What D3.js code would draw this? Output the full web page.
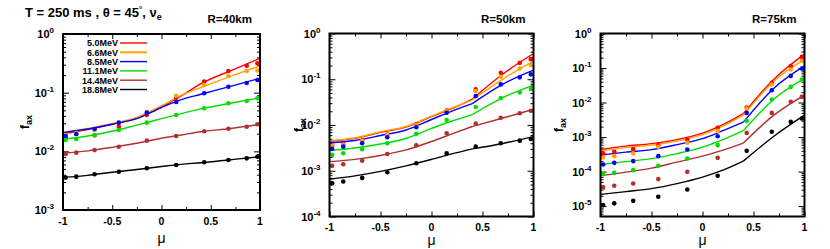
<!DOCTYPE html>
<html>
<head>
<meta charset="utf-8">
<script src="https://cdn.jsdelivr.net/npm/d3@7"></script>
<style>
  body { margin: 0; background: #fff; }
  svg text { font-family: "Liberation Sans", Arial, sans-serif; }
</style>
</head>
<body>
<div id="chart"></div>
<script>
// Gauss-Legendre angles where the points sit, and the grid of the model lines
const mu = [-0.9739, -0.8651, -0.6794, -0.4334, -0.1489, 0.1489, 0.4334, 0.6794, 0.8651, 0.9739];
const lineMu = [-1, -0.75, -0.5, -0.25, 0, 0.2, 0.4, 0.7, 1];

const energies = ["5.0MeV", "6.6MeV", "8.5MeV", "11.1MeV", "14.4MeV", "18.8MeV"];
const colors = ["#ff0000", "#ffa500", "#0000ff", "#00dd00", "#b03030", "#000000"];

const xTickLabels = ["-1", "-0.5", "0", "0.5", "1"];
const xTickValues = [-1, -0.5, 0, 0.5, 1];
const xMinorValues = [-0.75, -0.25, 0.25, 0.75];

// R = 40 km
const r40Points = [
  [0.0173, 0.0198, 0.0188, 0.0263, 0.0416, 0.082, 0.154, 0.234, 0.288, 0.317],
  [0.019, 0.0205, 0.0231, 0.0304, 0.0469, 0.0888, 0.135, 0.192, 0.234, 0.239],
  [0.0183, 0.0198, 0.024, 0.0308, 0.0456, 0.0693, 0.0976, 0.126, 0.146, 0.164],
  [0.0156, 0.0162, 0.0188, 0.0231, 0.0308, 0.0416, 0.0542, 0.0659, 0.0721, 0.0802],
  [0.009, 0.0095, 0.0105, 0.012, 0.0152, 0.0183, 0.022, 0.0243, 0.0263, 0.0289],
  [0.00356, 0.0037, 0.00406, 0.0045, 0.00514, 0.00585, 0.0065, 0.00712, 0.0076, 0.0081]
];
const r40Lines = [
  [0.02, 0.0235, 0.029, 0.037, 0.057, 0.088, 0.142, 0.236, 0.385],
  [0.021, 0.0245, 0.030, 0.038, 0.060, 0.090, 0.122, 0.19, 0.285],
  [0.0208, 0.024, 0.029, 0.036, 0.0558, 0.076, 0.094, 0.128, 0.176],
  [0.0162, 0.0183, 0.022, 0.028, 0.036, 0.044, 0.053, 0.066, 0.082],
  [0.0093, 0.0102, 0.0117, 0.0137, 0.0167, 0.019, 0.0216, 0.0245, 0.029],
  [0.0036, 0.0039, 0.0044, 0.0049, 0.0055, 0.006, 0.0064, 0.0072, 0.0081]
];

// R = 50 km
const r50Points = [
  [0.00357, 0.00376, 0.00459, 0.0062, 0.01026, 0.0207, 0.060, 0.138, 0.228, 0.275],
  [0.00348, 0.00366, 0.00448, 0.00605, 0.0100, 0.0202, 0.0551, 0.113, 0.172, 0.204],
  [0.0030, 0.00336, 0.00399, 0.0054, 0.0089, 0.0185, 0.0429, 0.0772, 0.110, 0.128],
  [0.00222, 0.00242, 0.00295, 0.00399, 0.00646, 0.01285, 0.0247, 0.0388, 0.0517, 0.061],
  [0.00128, 0.00139, 0.00166, 0.00233, 0.00361, 0.00659, 0.0107, 0.0144, 0.018, 0.0205],
  [0.000535, 0.00058, 0.000698, 0.00093, 0.00146, 0.00242, 0.00336, 0.00399, 0.00455, 0.00495]
];
const r50Lines = [
  [0.0044, 0.0051, 0.0069, 0.009, 0.0152, 0.0228, 0.037, 0.13, 0.366],
  [0.00455, 0.00528, 0.00714, 0.00927, 0.0157, 0.0235, 0.0351, 0.1007, 0.249],
  [0.00405, 0.00459, 0.0059, 0.00778, 0.0132, 0.0202, 0.0294, 0.0784, 0.158],
  [0.00278, 0.00315, 0.00385, 0.00508, 0.0084, 0.01223, 0.0169, 0.0398, 0.0745],
  [0.00158, 0.00177, 0.00216, 0.00285, 0.00436, 0.00637, 0.00927, 0.0142, 0.022],
  [0.000654, 0.000773, 0.000968, 0.00128, 0.00177, 0.00233, 0.0030, 0.00395, 0.00556]
];

// R = 75 km
const r75Points = [
  [3.36e-4, 3.73e-4, 4.47e-4, 5.83e-4, 8.53e-4, 1.85e-3, 7.21e-3, 0.0371, 0.115, 0.210],
  [2.57e-4, 2.80e-4, 3.36e-4, 5.21e-4, 6.81e-4, 1.51e-3, 6.65e-3, 0.0334, 0.0908, 0.161],
  [1.61e-4, 1.79e-4, 2.01e-4, 2.80e-4, 4.38e-4, 1.06e-3, 5.02e-3, 0.0228, 0.0592, 0.097],
  [8.44e-5, 9.2e-5, 1.10e-4, 1.47e-4, 2.40e-4, 5.83e-4, 2.95e-3, 0.0123, 0.0284, 0.0466],
  [3.48e-5, 3.87e-5, 4.54e-5, 6.05e-5, 9.84e-5, 2.50e-4, 1.32e-3, 5.02e-3, 0.0105, 0.0146],
  [1.07e-5, 1.20e-5, 1.42e-5, 1.86e-5, 3.04e-5, 7.54e-5, 3.99e-4, 1.42e-3, 2.76e-3, 3.46e-3]
];
const r75Lines = [
  [4.38e-4, 5.46e-4, 6.45e-4, 8.42e-4, 1.30e-3, 2.29e-3, 4.77e-3, 0.0475, 0.252],
  [3.99e-4, 4.94e-4, 5.83e-4, 7.62e-4, 1.17e-3, 2.07e-3, 4.30e-3, 0.0416, 0.177],
  [3.0e-4, 3.66e-4, 4.32e-4, 6.03e-4, 9.0e-4, 1.53e-3, 2.70e-3, 0.0261, 0.115],
  [1.61e-4, 1.94e-4, 2.37e-4, 3.31e-4, 5.11e-4, 8.42e-4, 1.53e-3, 0.01253, 0.0498],
  [7.64e-5, 9.64e-5, 1.26e-4, 1.88e-4, 2.80e-4, 4.18e-4, 6.67e-4, 4.31e-3, 0.0164],
  [2.18e-5, 2.63e-5, 3.21e-5, 4.48e-5, 6.92e-5, 1.10e-4, 2.01e-4, 1.06e-3, 4.31e-3]
];

const width = 830;
const height = 249;

const svg = d3.select("#chart").append("svg")
  .attr("width", width)
  .attr("height", height);

// kink: index in lineMu where the model curve breaks (null = smooth)
const panels = [
  { title: "R=40km", points: r40Points, lines: r40Lines, yMin: 1e-3, decades: [1e-3, 1e-2, 1e-1, 1],
    left: 63, right: 260, top: 34, bottom: 210, legend: true, yLabelX: 29, tickDy: 15, muDy: 33, kink: null },
  { title: "R=50km", points: r50Points, lines: r50Lines, yMin: 1e-4, decades: [1e-4, 1e-3, 1e-2, 1e-1, 1],
    left: 329.5, right: 533.5, top: 33.5, bottom: 216.5, legend: false, yLabelX: 303, tickDy: 14, muDy: 28, kink: 6 },
  { title: "R=75km", points: r75Points, lines: r75Lines, yMin: 5e-6, decades: [1e-5, 1e-4, 1e-3, 1e-2, 1e-1, 1],
    left: 600.5, right: 804.5, top: 33.5, bottom: 216.5, legend: false, yLabelX: 563, tickDy: 14, muDy: 28, kink: 6 }
];

panels.forEach(drawPanel);

// figure title
const title = svg.append("text")
  .attr("x", 25)
  .attr("y", 17)
  .attr("font-size", 13)
  .attr("font-weight", "bold");
title.append("tspan").text("T = 250 ms , \u03b8 = 45");
title.append("tspan").attr("font-size", 8).attr("dy", -5).text("\u00b0");
title.append("tspan").attr("dy", 5).text(", \u03bd");
title.append("tspan").attr("font-size", 9).attr("dy", 3).text("e");

function drawPanel(p) {
  const x = d3.scaleLinear().domain([-1, 1]).range([p.left, p.right]);
  const y = d3.scaleLog().domain([p.yMin, 1]).range([p.bottom, p.top]);

  const g = svg.append("g");

  // minor log ticks 2..9 per decade
  const minor = [];
  const lo = Math.floor(Math.log10(p.yMin));
  for (let e = lo; e < 0; e++) {
    for (let k = 2; k <= 9; k++) {
      const v = k * Math.pow(10, e);
      if (v >= p.yMin && v < 1) minor.push(v);
    }
  }

  const axes = [
    [d3.axisLeft(y).tickValues(p.decades).tickSizeInner(-6), `translate(${p.left},0)`],
    [d3.axisLeft(y).tickValues(minor).tickSizeInner(-3), `translate(${p.left},0)`],
    [d3.axisRight(y).tickValues(p.decades).tickSizeInner(-6), `translate(${p.right},0)`],
    [d3.axisRight(y).tickValues(minor).tickSizeInner(-3), `translate(${p.right},0)`],
    [d3.axisBottom(x).tickValues(xTickValues).tickSizeInner(-5), `translate(0,${p.bottom})`],
    [d3.axisBottom(x).tickValues(xMinorValues).tickSizeInner(-3), `translate(0,${p.bottom})`],
    [d3.axisTop(x).tickValues(xTickValues).tickSizeInner(-5), `translate(0,${p.top})`],
    [d3.axisTop(x).tickValues(xMinorValues).tickSizeInner(-3), `translate(0,${p.top})`]
  ];
  axes.forEach(([ax, tr]) => {
    const a = g.append("g").attr("transform", tr)
      .call(ax.tickSizeOuter(0).tickFormat(""));
    a.select(".domain").remove();
    a.selectAll("line").attr("stroke", "#000").attr("stroke-width", 1);
  });

  // y tick labels 10^n
  p.decades.forEach(v => {
    const e = Math.round(Math.log10(v));
    const t = g.append("text")
      .attr("x", p.left - 9)
      .attr("y", y(v) + 4)
      .attr("text-anchor", "end")
      .attr("font-size", 11)
      .attr("font-weight", "bold");
    t.append("tspan").text("10");
    t.append("tspan").attr("font-size", 8).attr("dy", -5).text(String(e));
  });

  // x tick labels
  xTickValues.forEach((v, i) => {
    g.append("text")
      .attr("x", x(v))
      .attr("y", p.bottom + p.tickDy)
      .attr("text-anchor", "middle")
      .attr("font-size", 10.5)
      .attr("font-weight", "bold")
      .text(xTickLabels[i]);
  });

  // axis labels
  g.append("text")
    .attr("x", (p.left + p.right) / 2)
    .attr("y", p.bottom + p.muDy)
    .attr("text-anchor", "middle")
    .attr("font-size", 14)
    .text("\u03bc");

  const yl = g.append("text")
    .attr("transform", `translate(${p.yLabelX},${(p.top + p.bottom) / 2}) rotate(-90)`)
    .attr("text-anchor", "middle")
    .attr("font-size", 12)
    .attr("font-weight", "bold");
  yl.append("tspan").text("f");
  yl.append("tspan").attr("font-size", 9).attr("dy", 3).text("ax");

  // panel title
  g.append("text")
    .attr("x", p.right - 8)
    .attr("y", 23)
    .attr("text-anchor", "end")
    .attr("font-size", 11.5)
    .attr("font-weight", "bold")
    .text(p.title);

  // model lines (smooth pieces, broken at the kink if the panel has one)
  const line = d3.line()
    .x(d => x(d[0]))
    .y(d => y(d[1]))
    .curve(d3.curveMonotoneX);

  const clipId = "clip" + p.title.replace(/\W/g, "");
  svg.append("clipPath").attr("id", clipId)
    .append("rect")
    .attr("x", p.left).attr("y", p.top)
    .attr("width", p.right - p.left).attr("height", p.bottom - p.top);

  const plot = g.append("g").attr("clip-path", `url(#${clipId})`);

  p.lines.forEach((vals, k) => {
    const pts = vals.map((v, i) => [lineMu[i], v]);
    const pieces = p.kink == null ? [pts] : [pts.slice(0, p.kink + 1), pts.slice(p.kink)];
    pieces.forEach(piece => {
      plot.append("path")
        .datum(piece)
        .attr("fill", "none")
        .attr("stroke", colors[k])
        .attr("stroke-width", 1.4)
        .attr("stroke-linejoin", "round")
        .attr("d", line);
    });
  });

  p.points.forEach((vals, k) => {
    plot.selectAll(null)
      .data(vals)
      .join("circle")
      .attr("cx", (d, i) => x(mu[i]))
      .attr("cy", d => y(d))
      .attr("r", 2.3)
      .attr("fill", colors[k]);
  });

  // frame
  g.append("rect")
    .attr("x", p.left).attr("y", p.top)
    .attr("width", p.right - p.left).attr("height", p.bottom - p.top)
    .attr("fill", "none")
    .attr("stroke", "#000")
    .attr("stroke-width", 2);

  if (p.legend) {
    energies.forEach((name, k) => {
      const ly = 43 + k * 9.3;
      g.append("text")
        .attr("x", 118)
        .attr("y", ly + 3.3)
        .attr("text-anchor", "end")
        .attr("font-size", 9)
        .attr("font-weight", "bold")
        .text(name);
      g.append("line")
        .attr("x1", 120).attr("x2", 147)
        .attr("y1", ly).attr("y2", ly)
        .attr("stroke", colors[k])
        .attr("stroke-width", k === 1 ? 2 : 1.4);
    });
  }
}
</script>
</body>
</html>
